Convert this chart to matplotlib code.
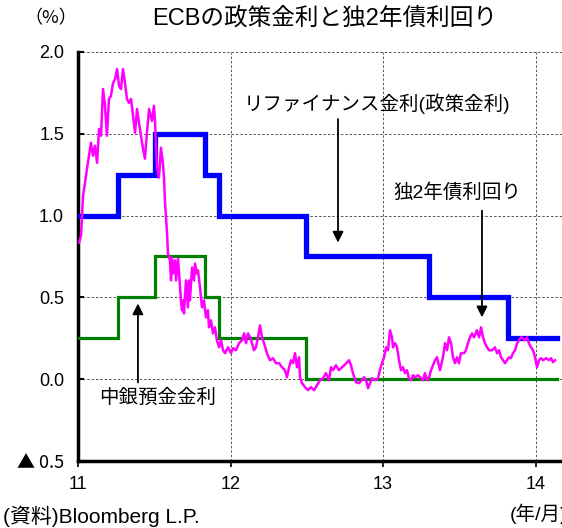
import numpy as np
import matplotlib
matplotlib.use('Agg')
import matplotlib.pyplot as plt

plt.rcParams['font.family'] = ['Liberation Sans', 'Noto Sans CJK JP', 'DejaVu Sans']

# ECB refinancing rate (step dates in decimal years, value after step)
refi_dates = [11.0, 11.26, 11.505, 11.83, 11.925, 12.495, 13.30, 13.82, 14.14]
refi_rate = [1.00, 1.25, 1.50, 1.25, 1.00, 0.75, 0.50, 0.25, 0.25]

# ECB deposit rate
depo_dates = [11.0, 11.26, 11.505, 11.83, 11.925, 12.495, 14.14]
depo_rate = [0.25, 0.50, 0.75, 0.50, 0.25, 0.00, 0.00]

# German 2y yield
bund_dates = [
    11.007, 11.02, 11.033, 11.046, 11.059, 11.072, 11.085, 11.098, 11.111, 11.125,
    11.138, 11.151, 11.164, 11.177, 11.19, 11.203, 11.216, 11.23, 11.243, 11.256,
    11.269, 11.282, 11.295, 11.308, 11.321, 11.334, 11.348, 11.361, 11.374, 11.387,
    11.4, 11.413, 11.426, 11.439, 11.452, 11.466, 11.485, 11.498, 11.505, 11.511,
    11.518, 11.531, 11.544, 11.557, 11.564, 11.57, 11.584, 11.59, 11.603, 11.61,
    11.616, 11.623, 11.636, 11.643, 11.656, 11.669, 11.675, 11.682, 11.689, 11.695,
    11.708, 11.721, 11.728, 11.734, 11.748, 11.761, 11.767, 11.78, 11.787, 11.8,
    11.813, 11.826, 11.839, 11.852, 11.859, 11.872, 11.885, 11.898, 11.911, 11.925,
    11.938, 11.951, 11.964, 11.984, 12.003, 12.016, 12.036, 12.056, 12.075, 12.089,
    12.102, 12.115, 12.128, 12.141, 12.154, 12.167, 12.18, 12.193, 12.207, 12.22,
    12.239, 12.259, 12.279, 12.298, 12.318, 12.338, 12.357, 12.37, 12.384, 12.397,
    12.41, 12.423, 12.436, 12.449, 12.456, 12.469, 12.489, 12.508, 12.528, 12.548,
    12.567, 12.587, 12.607, 12.626, 12.646, 12.659, 12.672, 12.692, 12.711, 12.731,
    12.751, 12.777, 12.79, 12.803, 12.823, 12.843, 12.862, 12.875, 12.889, 12.902,
    12.915, 12.928, 12.948, 12.967, 12.98, 12.993, 13.007, 13.02, 13.033, 13.046,
    13.059, 13.066, 13.079, 13.092, 13.105, 13.118, 13.131, 13.144, 13.157, 13.17,
    13.184, 13.197, 13.21, 13.23, 13.243, 13.262, 13.275, 13.289, 13.302, 13.315,
    13.328, 13.341, 13.354, 13.374, 13.393, 13.407, 13.42, 13.433, 13.446, 13.459,
    13.472, 13.485, 13.498, 13.511, 13.531, 13.544, 13.557, 13.57, 13.584, 13.597,
    13.616, 13.63, 13.643, 13.656, 13.669, 13.682, 13.695, 13.715, 13.734, 13.748,
    13.761, 13.774, 13.787, 13.8, 13.813, 13.826, 13.839, 13.852, 13.866, 13.879,
    13.892, 13.905, 13.918, 13.931, 13.944, 13.957, 13.97, 13.984, 13.997, 14.01,
    14.023, 14.036, 14.049, 14.069, 14.089, 14.102, 14.115, 14.128,
]
bund_yield = [
    0.835, 0.878, 1.122, 1.201, 1.287, 1.366, 1.445, 1.366, 1.427, 1.323,
    1.53, 1.488, 1.774, 1.671, 1.488, 1.713, 1.732, 1.811, 1.835, 1.896,
    1.793, 1.774, 1.896, 1.811, 1.713, 1.689, 1.713, 1.61, 1.506, 1.652,
    1.567, 1.488, 1.409, 1.348, 1.506, 1.652, 1.579, 1.671, 1.579, 1.439,
    1.293, 1.232, 1.415, 1.317, 1.232, 1.091, 0.89, 0.768, 0.726, 0.604,
    0.744, 0.646, 0.726, 0.604, 0.738, 0.561, 0.482, 0.421, 0.482, 0.402,
    0.604, 0.439, 0.604, 0.482, 0.683, 0.604, 0.707, 0.646, 0.665, 0.561,
    0.439, 0.482, 0.378, 0.421, 0.317, 0.36, 0.28, 0.317, 0.238, 0.195,
    0.238, 0.177, 0.159, 0.195, 0.159, 0.189, 0.177, 0.22, 0.238, 0.28,
    0.22, 0.28, 0.256, 0.22, 0.177, 0.195, 0.256, 0.329, 0.256, 0.22,
    0.159, 0.116, 0.128, 0.098, 0.098, 0.073, 0.055, 0.012, 0.073, 0.116,
    0.098, 0.159, 0.073, 0.134, 0.012, -0.024, -0.049, -0.067, -0.049, -0.067,
    -0.037, -0.006, 0.006, 0.037, -0.006, 0.073, 0.055, 0.085, 0.055, 0.073,
    0.09, 0.116, 0.085, 0.037, -0.018, -0.024, -0.006, 0.012, -0.006, -0.055,
    -0.024, 0.006, -0.006, 0.006, 0.055, 0.098, 0.134, 0.195, 0.177, 0.299,
    0.256, 0.195, 0.22, 0.195, 0.116, 0.055, 0.073, 0.037, 0.055, 0.006,
    -0.006, 0.024, 0.012, 0.024, 0.012, -0.006, 0.037, -0.006, 0.012, 0.055,
    0.085, 0.116, 0.134, 0.055, 0.134, 0.22, 0.177, 0.256, 0.22, 0.134,
    0.098, 0.134, 0.098, 0.159, 0.159, 0.177, 0.22, 0.256, 0.28, 0.256,
    0.299, 0.256, 0.317, 0.256, 0.22, 0.195, 0.177, 0.177, 0.195, 0.159,
    0.177, 0.134, 0.116, 0.098, 0.116, 0.134, 0.128, 0.159, 0.177, 0.22,
    0.238, 0.256, 0.25, 0.238, 0.256, 0.22, 0.195, 0.177, 0.134, 0.073,
    0.116, 0.128, 0.116, 0.128, 0.116, 0.128, 0.104, 0.116,
]

yticks = [-0.5, 0.0, 0.5, 1.0, 1.5, 2.0]
ytick_labels = ['▲ 0.5', '0.0', '0.5', '1.0', '1.5', '2.0']
xticks = [11, 12, 13, 14]
xtick_labels = ['11', '12', '13', '14']

W, H = 562, 528
fig = plt.figure(figsize=(W / 100, H / 100), dpi=100)
x0, x1 = 78, 566
y_top, y_bot = 52, 461
ax = fig.add_axes([x0 / W, 1 - y_bot / H, (x1 - x0) / W, (y_bot - y_top) / H])

ax.step(refi_dates, refi_rate, where='post', color='#0000FF', lw=3.8,
        solid_joinstyle='miter', zorder=3)
ax.step(depo_dates, depo_rate, where='post', color='#008000', lw=2.3,
        solid_joinstyle='miter', zorder=3)
ax.plot(bund_dates, bund_yield, color='#FF00FF', lw=1.8, zorder=4)

ax.set_xlim(11, 14.2)
ax.set_ylim(-0.5, 2.0)
ax.set_yticks(yticks)
ax.set_yticklabels(ytick_labels, fontsize=13)
# the negative label uses a CJK font so the triangle is drawn full size
ax.get_yticklabels()[0].set_fontfamily(['Noto Sans CJK JP', 'DejaVu Sans'])
ax.set_xticks(xticks)
ax.set_xticklabels(xtick_labels, fontsize=13)
ax.tick_params(axis='y', direction='in', length=4, width=1.5, pad=10)
ax.tick_params(axis='x', direction='out', length=4, width=1.2, pad=7)

for y in [0.0, 0.5, 1.0, 1.5, 2.0]:
    ax.axhline(y, color='#555555', lw=0.7, ls=(0, (2.5, 2)), zorder=1)
for x in [12, 13, 14]:
    ax.axvline(x, color='#555555', lw=0.7, ls=(0, (2.5, 2)), zorder=1)

for s in ['top', 'right']:
    ax.spines[s].set_visible(False)
ax.spines['left'].set_linewidth(2.5)
ax.spines['bottom'].set_linewidth(2.5)

arrow = dict(arrowstyle='-|>', color='black', lw=1.3, mutation_scale=16,
             shrinkA=0, shrinkB=0)
ax.text(12.964, 1.683, 'リファイナンス金利(政策金利)', fontsize=14, ha='center', va='center')
ax.annotate('', xy=(12.705, 0.835), xytext=(12.705, 1.59), arrowprops=arrow)
ax.text(13.489, 1.14, '独2年債利回り', fontsize=14, ha='center', va='center')
ax.annotate('', xy=(13.649, 0.378), xytext=(13.649, 1.03), arrowprops=arrow)
ax.text(11.521, -0.116, '中銀預金金利', fontsize=14, ha='center', va='center')
ax.annotate('', xy=(11.393, 0.463), xytext=(11.393, -0.02), arrowprops=arrow)

fig.text(325 / W, 1 - 18 / H, 'ECBの政策金利と独2年債利回り', fontsize=17,
         ha='center', va='center')
fig.text(51 / W, 1 - 18 / H, '（%）', fontsize=13, ha='center', va='center',
         family=['Noto Sans CJK JP', 'DejaVu Sans'])
fig.text(3 / W, 1 - 516 / H, '(資料)Bloomberg L.P.', fontsize=15, ha='left', va='center')
fig.text(510 / W, 1 - 514 / H, '(年/月)', fontsize=14, ha='left', va='center')

fig.savefig('out.png', dpi=100)
